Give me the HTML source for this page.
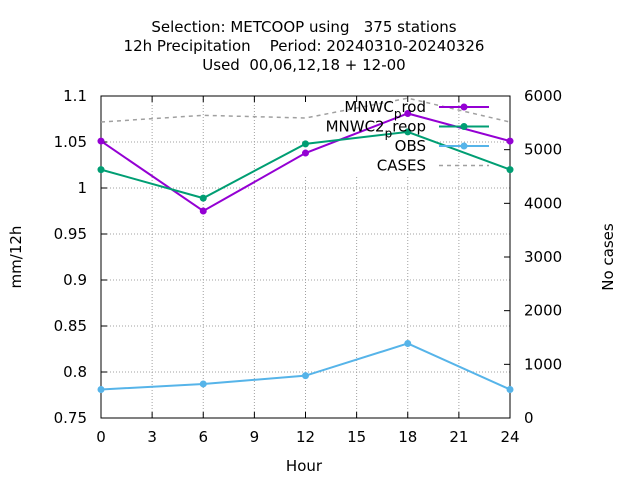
<!DOCTYPE html>
<html><head><meta charset="utf-8"><style>
body{margin:0;background:#fff}
svg{font-family:"DejaVu Sans","Liberation Sans",sans-serif;}
</style></head><body>
<svg width="640" height="480">
<g id="title" font-size="15" text-anchor="middle">
<text x="304" y="32" xml:space="preserve">Selection: METCOOP using   375 stations</text>
<text x="304" y="51" xml:space="preserve">12h Precipitation    Period: 20240310-20240326</text>
<text x="304" y="70" xml:space="preserve">Used  00,06,12,18 + 12-00</text>
</g>
<g id="grid"></g>
<rect x="305" y="97" width="127" height="78" fill="#fff"/>
<g id="axes"></g>
<g id="series"></g>
<g id="legend"></g>
<text x="304" y="471" font-size="15" text-anchor="middle">Hour</text>
<text transform="translate(21,257) rotate(-90)" font-size="15" text-anchor="middle">mm/12h</text>
<text transform="translate(613,257) rotate(-90)" font-size="15" text-anchor="middle">No cases</text>
</svg>
<script>
const hours=[0,6,12,18,24];
const mnwcProd=[1.051,0.975,1.038,1.081,1.051];
const mnwc2Preop=[1.020,0.989,1.048,1.061,1.020];
const obs=[0.781,0.787,0.796,0.831,0.781];
const cases=[5515,5640,5590,5960,5515];
const xTicks=[0,3,6,9,12,15,18,21,24];
const yTicks=[0.75,0.8,0.85,0.9,0.95,1,1.05,1.1];
const yTickLabels=["0.75","0.8","0.85","0.9","0.95","1","1.05","1.1"];
const y2Ticks=[0,1000,2000,3000,4000,5000,6000];
const NS="http://www.w3.org/2000/svg";
const L=101,R=510,T=96,B=418;
const xs=h=>L+(h-0)/24*(R-L);
const ys=v=>B-(v-0.75)/0.35*(B-T);
const y2s=v=>B-v/6000*(B-T);
function mk(tag,attrs,parent){const e=document.createElementNS(NS,tag);for(const k in attrs)e.setAttribute(k,attrs[k]);parent.appendChild(e);return e;}
const grid=document.getElementById('grid'),axes=document.getElementById('axes'),ser=document.getElementById('series'),leg=document.getElementById('legend');
xTicks.forEach(t=>{
 if(t>0&&t<24){const g=mk('line',{x1:xs(t),x2:xs(t),y1:T,y2:B,stroke:'#a0a0a0','stroke-dasharray':'1,2'},grid);
 
 }
 mk('line',{x1:xs(t),x2:xs(t),y1:B,y2:B-6,stroke:'#000'},axes);
 mk('line',{x1:xs(t),x2:xs(t),y1:T,y2:T+6,stroke:'#000'},axes);
 const tx=mk('text',{x:xs(t),y:B+24,'font-size':15,'text-anchor':'middle'},axes);tx.textContent=t;
 
 
});
yTicks.forEach((t,i)=>{
 if(i>0&&i<yTicks.length-1){const g=mk('line',{x1:L,x2:R,y1:ys(t),y2:ys(t),stroke:'#a0a0a0','stroke-dasharray':'1,2'},grid);
 
 }
 mk('line',{x1:L,x2:L+6,y1:ys(t),y2:ys(t),stroke:'#000'},axes);
 const tx=mk('text',{x:L-14,y:ys(t)+5,'font-size':15,'text-anchor':'end'},axes);tx.textContent=yTickLabels[i];
 
 
});
y2Ticks.forEach(t=>{
 mk('line',{x1:R,x2:R-6,y1:y2s(t),y2:y2s(t),stroke:'#000'},axes);
 const tx=mk('text',{x:R+14,y:y2s(t)+5,'font-size':15,'text-anchor':'start'},axes);tx.textContent=t;
 
 
});
const fr=mk('rect',{x:L,y:T,width:R-L,height:B-T,fill:'none',stroke:'#000'},axes);


function series(vals,scale,color,name,dash,markers){
 const pts=hours.map((h,i)=>xs(h)+','+scale(vals[i])).join(' ');
 const p=mk('polyline',{points:pts,fill:'none',stroke:color,'stroke-width':dash?1.5:2,'stroke-dasharray':dash||'none'},ser);
 
 
 if(markers)hours.forEach((h,i)=>{const c=mk('circle',{cx:xs(h),cy:scale(vals[i]),r:3.5,fill:color},ser);
 
 });
}
series(cases,y2s,'#a0a0a0','cases','4,4',false);
series(mnwcProd,ys,'#9400d3','mnwc-prod',null,true);
series(mnwc2Preop,ys,'#009e73','mnwc2-preop',null,true);
series(obs,ys,'#56b4e9','obs',null,true);
const legendItems=[['MNWC_prod','#9400d3',0,'legend-mnwc-prod'],['MNWC2_preop','#009e73',0,'legend-mnwc2-preop'],['OBS','#56b4e9',0,'legend-obs'],['CASES','#a0a0a0',1,'legend-cases']];
legendItems.forEach((it,i)=>{
 const y=107+i*19.5;
 const g=mk('g',{},leg);
 
 
 const tx=mk('text',{x:426,y:y+5,'font-size':15,'text-anchor':'end'},g);
 if(i<2){const parts=it[0].split('_');tx.textContent=parts[0];const s=mk('tspan',{dy:6,'font-size':12},tx);s.textContent='p';const s2=mk('tspan',{dy:-6},tx);s2.textContent=parts[1].slice(1);}
 else tx.textContent=it[0];
 mk('line',{x1:439,x2:489,y1:y,y2:y,stroke:it[1],'stroke-width':it[2]?1.5:2,'stroke-dasharray':it[2]?'4,4':'none'},g);
 if(!it[2])mk('circle',{cx:464,cy:y,r:3.5,fill:it[1]},g);
});
</script>
</body></html>
